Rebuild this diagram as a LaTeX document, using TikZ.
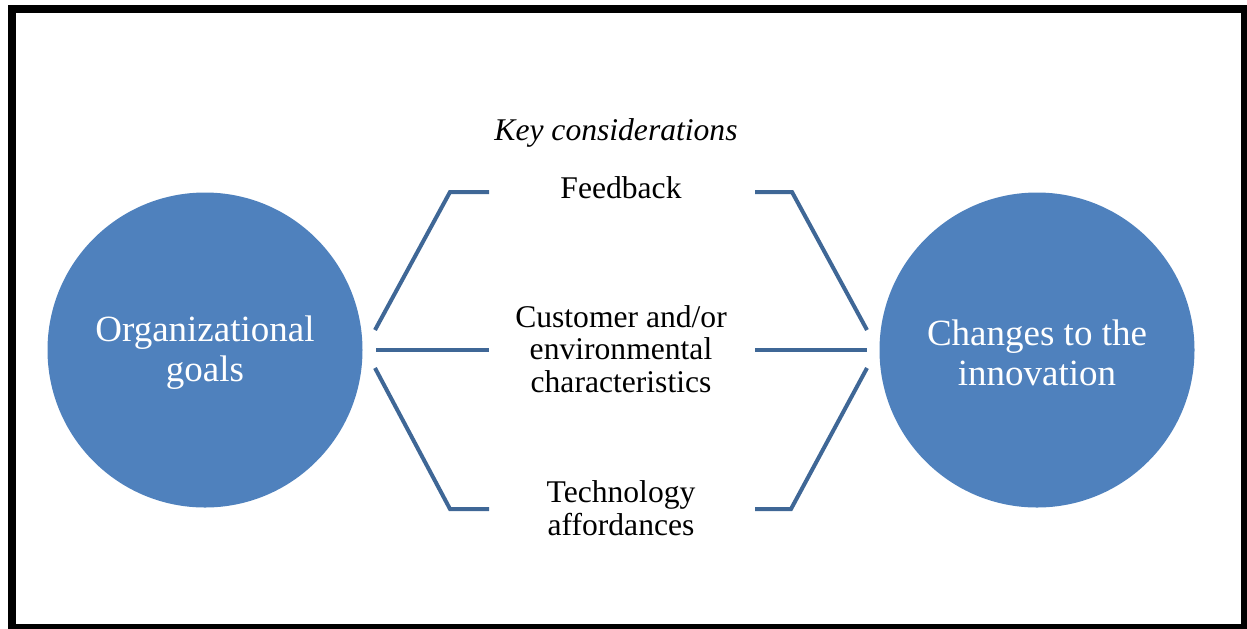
\documentclass[tikz,border=0pt]{standalone}
\usepackage{fontspec}
\setmainfont{Liberation Serif}
\definecolor{goalblue}{HTML}{4F81BD}
\definecolor{linkblue}{HTML}{3F6796}

\begin{document}
\begin{tikzpicture}[
  x=0.5pt, y=-0.5pt,
  goal/.style={circle, fill=goalblue, minimum size=157.5pt, inner sep=0pt,
    text=white, align=center, text height=35.5pt, font=\fontsize{18.5}{20}\selectfont},
  factor/.style={align=center, font=\fontsize{15.8}{16.3}\selectfont},
  link/.style={draw=linkblue, line width=2pt}
]
\useasboundingbox (0,0) rectangle (1247,628);
\draw[line width=4pt] (12,9) rectangle (1245,628);

\node[goal] (org) at (205,350) {Organizational\\goals};
\node[goal] (chg) at (1037,350) {Changes to the\\innovation};

\node[factor, font=\fontsize{15.8}{16.3}\selectfont\itshape] (key) at (616,133) {Key considerations};
\node[factor] (fb) at (621,188) {Feedback};
\node[factor] (cust) at (621,349) {Customer and/or\\environmental\\characteristics};
\node[factor] (tech) at (621,508) {Technology\\affordances};

% left side
\coordinate (lt0) at (375,330);
\coordinate (lt1) at (450,192);
\coordinate (lt2) at (489,192);
\coordinate (lm0) at (376,350);
\coordinate (lm1) at (489,350);
\coordinate (lb0) at (375,368);
\coordinate (lb1) at (450,509);
\coordinate (lb2) at (489,509);
% right side
\coordinate (rt0) at (755,192);
\coordinate (rt1) at (792,192);
\coordinate (rt2) at (867,330);
\coordinate (rm0) at (755,350);
\coordinate (rm1) at (867,350);
\coordinate (rb0) at (755,509);
\coordinate (rb1) at (791,509);
\coordinate (rb2) at (867,368);

\draw[link] (lt0) -- (lt1) -- (lt2);
\draw[link] (lm0) -- (lm1);
\draw[link] (lb0) -- (lb1) -- (lb2);
\draw[link] (rt0) -- (rt1) -- (rt2);
\draw[link] (rm0) -- (rm1);
\draw[link] (rb0) -- (rb1) -- (rb2);

\end{tikzpicture}
\end{document}
